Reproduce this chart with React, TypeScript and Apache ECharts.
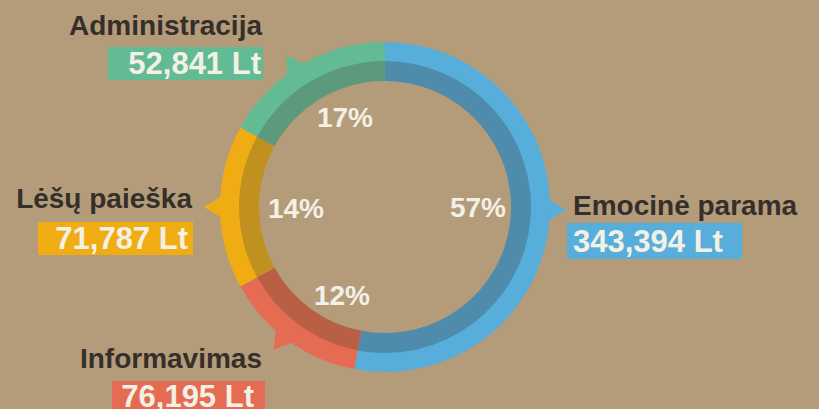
import React, { useEffect, useRef } from "react";
import * as echarts from "echarts";

// Categories in clockwise order from 12 o'clock
const categories = ["Emocinė parama", "Informavimas", "Lėšų paieška", "Administracija"];
const amounts = ["343,394 Lt", "76,195 Lt", "71,787 Lt", "52,841 Lt"];
const percentLabels = ["57%", "12%", "14%", "17%"];
// arc shares as drawn in the picture (degrees ≈ share * 3.6)
const arcShares = [53, 14, 16, 17];
// angles (deg, clockwise from top) of the pointer notches
const pointerAngles = [91, 218, 270, 327];

const outerColors = ["#57aedb", "#e56c52", "#f0ad13", "#62bb92"];
const innerColors = ["#4f8cab", "#b95f46", "#c0911f", "#5d9a7b"];

const CX = 385;
const CY = 207;
const R_OUT = 165;
const R_MID = 146;
const R_IN = 126;

const FONT = "'Liberation Sans', Arial, Helvetica, sans-serif";
const NAME_COLOR = "#352f2b";
const VALUE_COLOR = "#f3f0e6";

// layout of label blocks (positions only)
const labelLayout = [
  { nameX: 573, nameY: 205, align: "left", box: [567, 223, 175, 36], valX: 573, valY: 241 },
  { nameX: 262, nameY: 358, align: "right", box: [112, 381, 153, 32], valX: 254, valY: 396 },
  { nameX: 192, nameY: 198, align: "right", box: [38, 222, 155, 33], valX: 188, valY: 238 },
  { nameX: 262, nameY: 25, align: "right", box: [108, 47, 155, 33], valX: 261, valY: 63 },
];
const percentPos = [
  [478, 207],
  [342, 295],
  [296, 208],
  [345, 117],
];

export default function App() {
  const ref = useRef<HTMLDivElement>(null);
  useEffect(() => {
    document.body.style.margin = "0";
    const chart = echarts.init(ref.current!, undefined, { renderer: "svg" });

    const pointers = pointerAngles.map((a, i) => {
      const r = (a * Math.PI) / 180;
      const ux = Math.sin(r);
      const uy = -Math.cos(r);
      const tx = Math.cos(r);
      const ty = Math.sin(r);
      const b = R_OUT - 4;
      const h = 12;
      const tip = R_OUT + 16;
      return {
        type: "polygon",
        z: 1,
        shape: {
          points: [
            [CX + ux * b + tx * h, CY + uy * b + ty * h],
            [CX + ux * tip, CY + uy * tip],
            [CX + ux * b - tx * h, CY + uy * b - ty * h],
          ],
        },
        style: { fill: outerColors[i] },
      };
    });

    const labels: any[] = [];
    categories.forEach((name, i) => {
      const L = labelLayout[i];
      labels.push({
        type: "text",
        z: 10,
        style: {
          x: L.nameX,
          y: L.nameY,
          text: name,
          fill: NAME_COLOR,
          font: `bold 28px ${FONT}`,
          textAlign: L.align,
          textVerticalAlign: "middle",
        },
      });
      labels.push({
        type: "rect",
        z: 10,
        shape: { x: L.box[0], y: L.box[1], width: L.box[2], height: L.box[3] },
        style: { fill: outerColors[i] },
      });
      labels.push({
        type: "text",
        z: 11,
        style: {
          x: L.valX,
          y: L.valY,
          text: amounts[i],
          fill: VALUE_COLOR,
          font: `bold 31px ${FONT}`,
          textAlign: L.align,
          textVerticalAlign: "middle",
        },
      });
      labels.push({
        type: "text",
        z: 11,
        style: {
          x: percentPos[i][0],
          y: percentPos[i][1],
          text: percentLabels[i],
          fill: VALUE_COLOR,
          font: `bold 28px ${FONT}`,
          textAlign: "center",
          textVerticalAlign: "middle",
        },
      });
    });

    chart.setOption({
      animation: false,
      backgroundColor: "#b49c7b",
      series: [
        {
          type: "pie",
          center: [CX, CY],
          radius: [R_MID - 1, R_OUT],
          startAngle: 90,
          clockwise: true,
          silent: true,
          label: { show: false },
          labelLine: { show: false },
          itemStyle: { borderWidth: 0 },
          data: categories.map((c, i) => ({
            name: c,
            value: arcShares[i],
            itemStyle: { color: outerColors[i] },
          })),
        },
        {
          type: "pie",
          center: [CX, CY],
          radius: [R_IN, R_MID],
          startAngle: 90,
          clockwise: true,
          silent: true,
          label: { show: false },
          labelLine: { show: false },
          itemStyle: { borderWidth: 0 },
          data: categories.map((c, i) => ({
            name: c,
            value: arcShares[i],
            itemStyle: { color: innerColors[i] },
          })),
        },
      ],
      graphic: [...pointers, ...labels],
    });
    return () => chart.dispose();
  }, []);
  return <div ref={ref} style={{ width: 819, height: 409 }} />;
}
